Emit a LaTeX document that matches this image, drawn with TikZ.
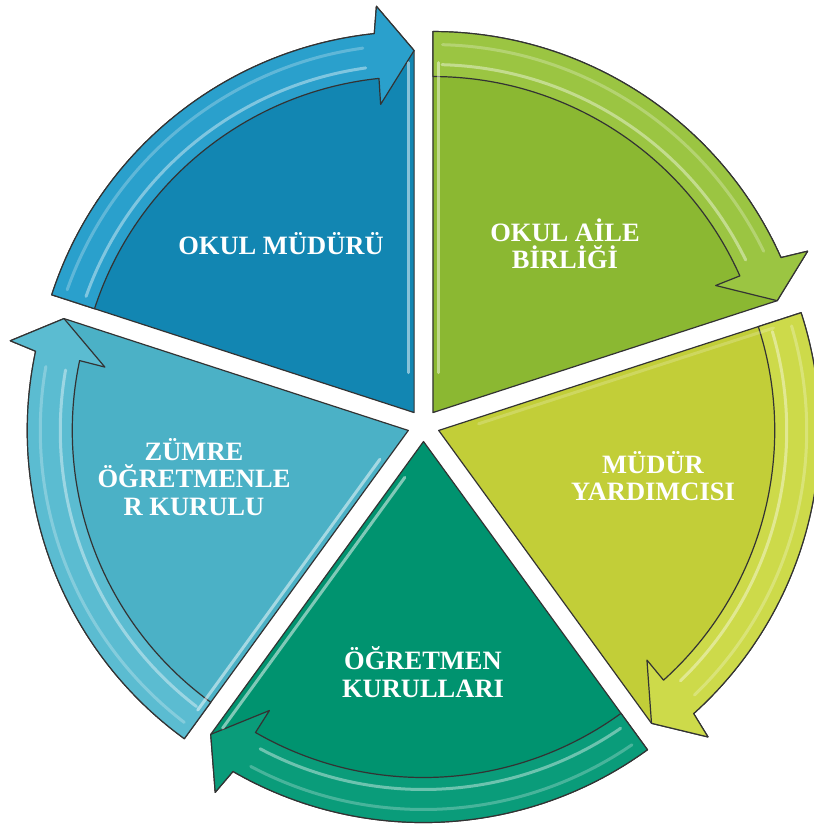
\documentclass[tikz,border=0pt]{standalone}
\usepackage{fontspec}
\setmainfont{Liberation Serif}
\usetikzlibrary{calc}
\definecolor{mudurf}{HTML}{1286B2}
\definecolor{mudurb}{HTML}{2AA0CC}
\definecolor{ailef}{HTML}{8BB832}
\definecolor{aileb}{HTML}{9BC542}
\definecolor{yardf}{HTML}{C2CE38}
\definecolor{yardb}{HTML}{CDDA4A}
\definecolor{ogrtf}{HTML}{00936F}
\definecolor{ogrtb}{HTML}{0A9C7A}
\definecolor{zumref}{HTML}{4BB1C6}
\definecolor{zumreb}{HTML}{5BBCD1}
\begin{document}
\begin{tikzpicture}[x=1pt,y=1pt,
	every node/.style={text=white,align=center,inner sep=0,font=\fontsize{26.5}{27.5}\selectfont\bfseries},
	seg/.style={draw=black!80,line width=1.2pt,line join=round},
	gloss/.style={white,opacity=0.4,line width=3pt,line cap=round}]
\useasboundingbox (0,0) rectangle (813,-826);
\coordinate (c) at (423.5,-425.5);
\foreach \s/\fc/\bc/\hl/\pd/\op in {162/mudurf/mudurb/90/180/0.5,90/ailef/aileb/90/0/0.45,
	18/yardf/yardb/18/-72/0.2,-54/ogrtf/ogrtb/-126/-36/0.5,234/zumref/zumreb/234/144/0.5}{
	\pgfmathsetmacro\tipang{\s-72}
	\pgfmathsetmacro\bis{\s-36}
	\pgfmathsetmacro\hd{\s-66}
	\pgfmathsetmacro\barbo{\s-66.7}
	\pgfmathsetmacro\barbi{\s-65.8}
	\pgfmathsetmacro\gs{\s-1.5}
	\pgfmathsetmacro\ge{\s-64}
	\coordinate (t) at ($(c)+(\bis:16)$);
	\filldraw[seg,fill=\fc] (t) -- ($(t)+(\s:381)$) arc[start angle=\s,end angle=\hd,radius=381]
		-- ($(t)+(\barbo:408)$) -- ($(t)+(\tipang:362)$) -- cycle;
	\filldraw[seg,fill=\bc] ($(t)+(\s:336)$) -- ($(t)+(\s:381)$) arc[start angle=\s,end angle=\hd,radius=381]
		-- ($(t)+(\barbo:408)$) -- ($(t)+(\tipang:362)$) -- ($(t)+(\barbi:310)$) -- ($(t)+(\hd:336)$)
		arc[start angle=\hd,end angle=\s,radius=336] -- cycle;
	\draw[gloss] ($(t)+(\gs:348)$) arc[start angle=\gs,end angle=\ge,radius=348];
	\draw[gloss,opacity=0.25] ($(t)+(\gs:368)$) arc[start angle=\gs,end angle=\ge,radius=368];
	\draw[gloss,opacity=\op] ($(t)+(\hl:40)+(\pd:6)$) -- ($(t)+(\hl:350)+(\pd:6)$);
}
\node (mudur) at (281,-244) {OKUL MÜDÜRÜ};
\node (aile) at (565,-244) {OKUL AİLE\\BİRLİĞİ};
\node (yard) at (653,-476) {MÜDÜR\\YARDIMCISI};
\node (ogrt) at (423,-672) {ÖĞRETMEN\\KURULLARI};
\node (zumre) at (194,-477) {ZÜMRE\\ÖĞRETMENLE\\R KURULU};
\end{tikzpicture}
\end{document}
